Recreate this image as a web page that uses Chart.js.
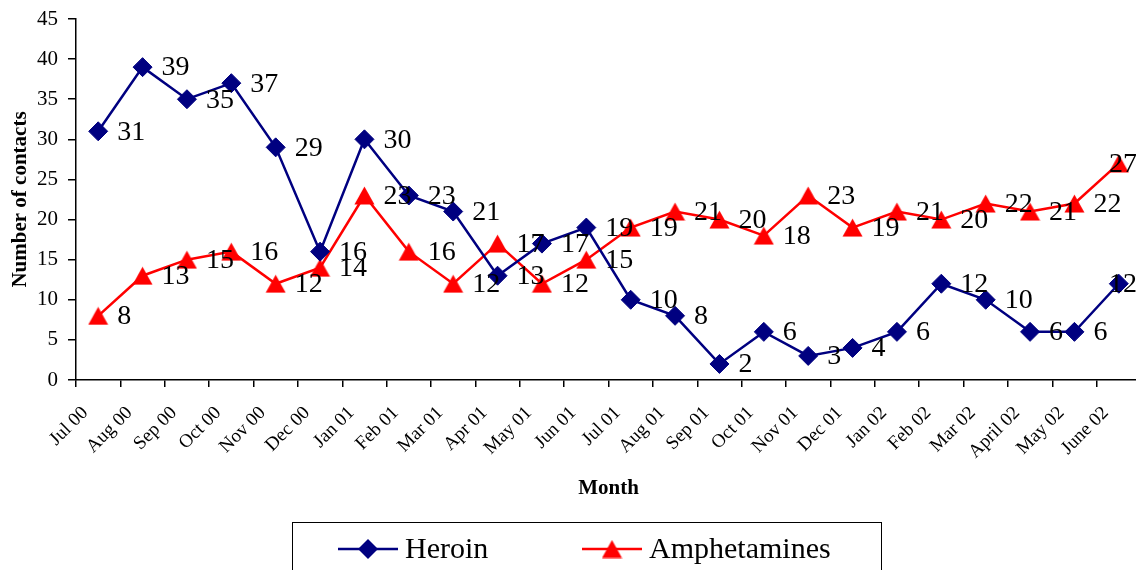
<!DOCTYPE html>
<html>
<head>
<meta charset="utf-8">
<script src="https://cdn.jsdelivr.net/npm/chart.js@4.4.1/dist/chart.umd.min.js"></script>
<style>
  html, body { margin: 0; padding: 0; background: #fff; overflow: hidden; }
  #wrap { width: 1141px; height: 570px; }
</style>
</head>
<body>
<div id="wrap"><canvas id="contactsChart" width="1141" height="570"></canvas></div>
<script>
const months = ["Jul 00", "Aug 00", "Sep 00", "Oct 00", "Nov 00", "Dec 00",
    "Jan 01", "Feb 01", "Mar 01", "Apr 01", "May 01", "Jun 01",
    "Jul 01", "Aug 01", "Sep 01", "Oct 01", "Nov 01", "Dec 01",
    "Jan 02", "Feb 02", "Mar 02", "April 02", "May 02", "June 02"];
const heroin = [31, 39, 35, 37, 29, 16, 30, 23, 21, 13, 17, 19, 10, 8, 2, 6, 3, 4, 6, 12, 10, 6, 6, 12];
const amphetamines = [8, 13, 15, 16, 12, 14, 23, 16, 12, 17, 12, 15, 19, 21, 20, 18, 23, 19, 21, 20, 22, 21, 22, 27];
const yTicks = [0, 5, 10, 15, 20, 25, 30, 35, 40, 45];

const serif = "'Liberation Serif', 'Times New Roman', serif";
const navy = "#000080";
const red = "#FF0000";

// triangle marker centred on its box, like the Excel one
const makeTriangle = (color) => {
    const c = document.createElement("canvas");
    c.width = 21;
    c.height = 19;
    const g = c.getContext("2d");
    g.fillStyle = color;
    g.beginPath();
    g.moveTo(10.5, 0.5);
    g.lineTo(20.5, 18.5);
    g.lineTo(0.5, 18.5);
    g.closePath();
    g.fill();
    return c;
};
const triangle = makeTriangle(red);

// value next to every point, pushed back inside the picture at the right edge
const valueLabels = {
    id: "valueLabels",
    afterDatasetsDraw(chart) {
        const ctx = chart.ctx;
        const maxRight = 1137;
        ctx.save();
        ctx.font = `28px ${serif}`;
        ctx.fillStyle = "#000";
        ctx.textBaseline = "middle";
        ctx.textAlign = "left";
        chart.data.datasets.forEach((ds, i) => {
            chart.getDatasetMeta(i).data.forEach((pt, j) => {
                const txt = String(ds.data[j]);
                const w = ctx.measureText(txt).width;
                let x = pt.x + 19;
                if (x + w > maxRight) x = maxRight - w;
                ctx.fillText(txt, x, pt.y + 1);
            });
        });
        ctx.restore();
    }
};

const boxLegend = {
    id: "boxLegend",
    afterDraw(chart) {
        const ctx = chart.ctx;
        const top = 522, left = 292, right = 881, mid = 549;
        ctx.save();
        ctx.strokeStyle = "#000";
        ctx.lineWidth = 1;
        ctx.strokeRect(left + 0.5, top + 0.5, right - left, 80);

        const starts = [338, 582];
        chart.data.datasets.forEach((ds, i) => {
            const x0 = starts[i];
            ctx.strokeStyle = ds.borderColor;
            ctx.lineWidth = 2.5;
            ctx.beginPath();
            ctx.moveTo(x0, mid);
            ctx.lineTo(x0 + 60, mid);
            ctx.stroke();
            ctx.fillStyle = ds.borderColor;
            if (ds.pointStyle === "rectRot") {
                ctx.beginPath();
                ctx.moveTo(x0 + 30 - 10, mid);
                ctx.lineTo(x0 + 30, mid - 10);
                ctx.lineTo(x0 + 30 + 10, mid);
                ctx.lineTo(x0 + 30, mid + 10);
                ctx.closePath();
                ctx.fill();
            } else {
                ctx.drawImage(ds.pointStyle, x0 + 30 - 10.5, mid - 9.5);
            }
            ctx.fillStyle = "#000";
            ctx.font = `30px ${serif}`;
            ctx.textBaseline = "middle";
            ctx.textAlign = "left";
            ctx.fillText(ds.label, x0 + 67, mid + 1);
        });
        ctx.restore();
    }
};

new Chart(document.getElementById("contactsChart"), {
    type: "line",
    data: {
        labels: months,
        datasets: [{
            label: "Heroin",
            data: heroin,
            borderColor: navy,
            backgroundColor: navy,
            borderWidth: 2.5,
            pointStyle: "rectRot",
            pointRadius: 9.5,
            pointBorderWidth: 1,
            tension: 0
        }, {
            label: "Amphetamines",
            data: amphetamines,
            borderColor: red,
            backgroundColor: red,
            borderWidth: 2.5,
            pointStyle: triangle,
            pointRadius: 10,
            tension: 0
        }]
    },
    options: {
        responsive: false,
        animation: false,
        layout: { autoPadding: false, padding: { top: 19, left: 0, right: 0, bottom: 0 } },
        plugins: {
            legend: { display: false },
            tooltip: { enabled: false }
        },
        scales: {
            x: {
                offset: true,
                grid: { offset: true, drawOnChartArea: false, tickLength: 7, color: "#000", lineWidth: 1.5 },
                border: { color: "#000", width: 1.5 },
                ticks: {
                    color: "#000",
                    font: { family: serif, size: 19 },
                    minRotation: 45,
                    maxRotation: 45,
                    autoSkip: false,
                    padding: 15,
                    labelOffset: -13
                },
                title: {
                    display: true,
                    text: "Month",
                    color: "#000",
                    font: { family: serif, size: 21, weight: "bold" },
                    padding: { top: 0, bottom: 69 }
                },
                afterFit: (s) => {
                    s.height = 190;
                    s.paddingLeft = 0;
                    s.paddingRight = 0;
                }
            },
            y: {
                min: 0,
                max: 45,
                afterBuildTicks: (s) => {
                    s.ticks = yTicks.map(v => ({ value: v }));
                },
                grid: { drawOnChartArea: false, tickLength: 8, color: "#000", lineWidth: 1.5 },
                border: { color: "#000", width: 1.5 },
                ticks: {
                    color: "#000",
                    font: { family: serif, size: 21 },
                    padding: 10
                },
                title: {
                    display: true,
                    text: "Number of contacts",
                    color: "#000",
                    font: { family: serif, size: 21, weight: "bold" },
                    padding: { top: 8, bottom: 0 }
                },
                afterFit: (s) => {
                    s.width = 76;
                    s.paddingTop = 0;
                    s.paddingBottom = 0;
                }
            }
        }
    },
    plugins: [valueLabels, boxLegend]
});
</script>
</body>
</html>
